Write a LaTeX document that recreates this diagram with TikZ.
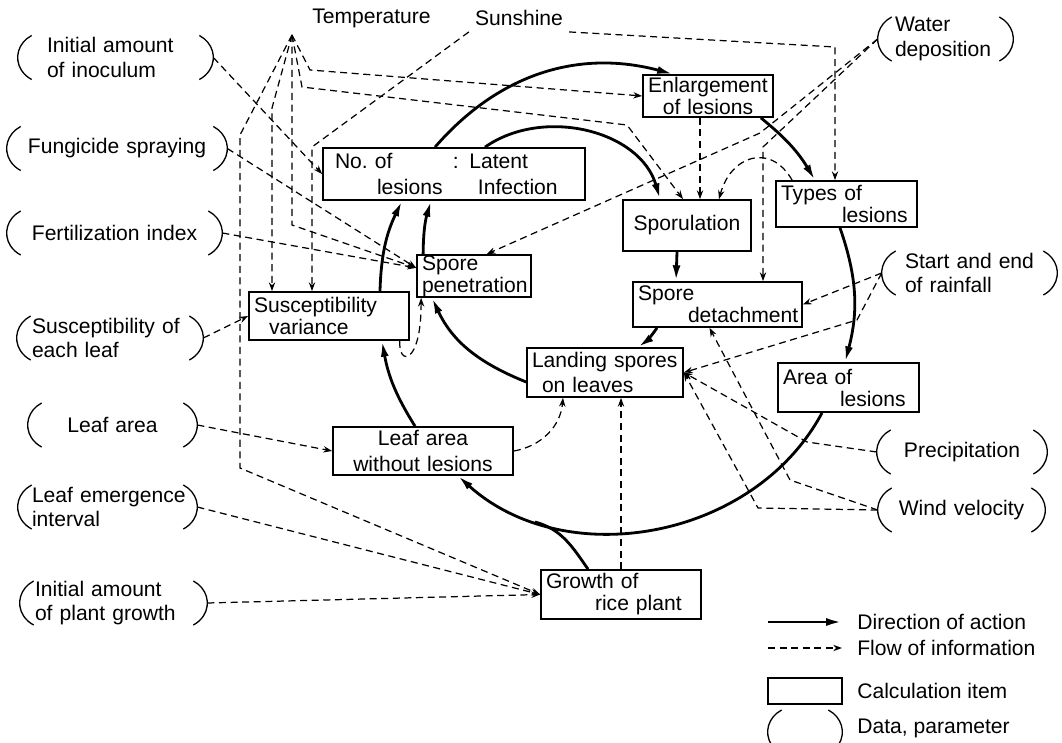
\documentclass[tikz,border=0pt]{standalone}
\usepackage{fontspec}
\setmainfont{Liberation Sans}
\usetikzlibrary{arrows.meta}
\newcommand\brk[1]{%
\draw[paren]([shift={(0.28cm,0.44cm)}]#1.west)arc[start angle=120,end angle=240,x radius=0.56cm,y radius=0.508cm];
\draw[paren]([shift={(-0.28cm,0.44cm)}]#1.east)arc[start angle=60,end angle=-60,x radius=0.56cm,y radius=0.508cm];}
\begin{document}
\begin{tikzpicture}[x=0.02cm,y=0.02cm,font=\fontsize{12}{14}\selectfont,
 box/.style={draw,line width=1pt,align=left,inner xsep=0.1cm,inner ysep=0pt,font=\fontsize{12}{12.5}\selectfont},
 loose/.style={font=\fontsize{12}{14.5}\selectfont},
 datum/.style={inner ysep=0pt,inner xsep=0.3cm,align=left},
 act/.style={line width=1.6pt,-{Latex[length=9pt,width=4.5pt]}},
 info/.style={line width=0.7pt,dash pattern=on 4pt off 2.6pt,-{Stealth[length=5pt,width=3.6pt]}},
 paren/.style={line width=0.75pt}]
\useasboundingbox (0,0) rectangle (1062,-743);
% calculation items
\node[box,text width=2.4cm,minimum height=0.84cm,align=center] (enl) at (708,-96) {Enlargement\\of lesions};
\node[box,loose,text width=5.04cm,minimum height=1.04cm] (nolat) at (454,-174) {\hspace*{0.14cm}\makebox[2.36cm][l]{No.\ of}: Latent\\\hspace*{0.98cm}\makebox[2.02cm][l]{lesions}Infection};
\node[box,text width=2.36cm,minimum height=1.02cm,align=center] (spor) at (687,-225.5) {Sporulation};
\node[box,text width=2.62cm,minimum height=0.92cm] (types) at (846.5,-204) {Types of\\\hspace*{1.22cm}lesions};
\node[box,text width=3.18cm,minimum height=0.9cm] (sdet) at (717.5,-304.5) {Spore\\\hspace*{1.0cm}\mbox{detachment}};
\node[box,text width=2.08cm,minimum height=0.84cm] (pen) at (474,-276) {Spore\\\mbox{penetration}};
\node[box,text width=3.0cm,minimum height=0.96cm] (susc) at (329,-316) {Susceptibility\\\hspace*{0.3cm}variance};
\node[box,loose,text width=2.92cm,minimum height=0.98cm] (land) at (605,-372.5) {\mbox{Landing spores}\\\hspace*{0.2cm}on leaves};
\node[box,text width=2.62cm,minimum height=0.98cm] (area) at (848.5,-387.5) {Area of\\\hspace*{1.14cm}lesions};
\node[box,loose,text width=3.4cm,minimum height=0.96cm,align=center] (lawl) at (423,-451) {Leaf area\\without lesions};
\node[box,text width=3.0cm,minimum height=0.98cm] (grow) at (621,-594.5) {Growth of\\\hspace*{0.98cm}rice plant};
% data, parameters
\node[datum,inner xsep=0.58cm,text width=2.74cm] (inoc) at (115.5,-57.5) {Initial amount\\of inoculum};
\node[datum,text width=3.8cm,align=center] (fung) at (117,-148.5) {Fungicide spraying};
\node[datum,text width=3.7cm,align=center] (fert) at (114.5,-233) {Fertilization index};
\node[datum,text width=3.12cm] (sleaf) at (110,-338) {\mbox{Susceptibility of}\\each leaf};
\node[datum,text width=2.78cm,align=center] (leaf) at (112.5,-425) {Leaf area};
\node[datum,inner xsep=0.28cm,text width=3.02cm] (lemerg) at (107.5,-507) {\mbox{Leaf emergence}\\interval};
\node[datum,text width=3.14cm] (iplant) at (113.5,-603) {Initial amount\\\mbox{of plant growth}};
\node[datum,inner xsep=0.34cm,text width=2.02cm] (water) at (945.5,-39) {Water\\\mbox{deposition}};
\node[datum,inner xsep=0.46cm,text width=2.58cm] (rain) at (969.5,-273) {\mbox{Start and end}\\of rainfall};
\node[datum,text width=2.8cm,align=center] (precip) at (962,-452) {Precipitation};
\node[datum,text width=2.74cm,align=center] (wind) at (961.5,-510) {Wind velocity};
\foreach \d in {inoc,fung,fert,sleaf,leaf,lemerg,iplant,water,rain,precip,wind}{\brk{\d}}
\node (temp) at (371.5,-18) {Temperature};
\node (sun) at (519,-18) {Sunshine};
\coordinate (tpt) at (292,-35);
% direction of action
\draw[act] ([xshift=-0.38cm]nolat.north) to[bend left=32] ([xshift=-0.7cm]enl.north);
\draw[act] ([xshift=-0.26cm]enl.south east) to[bend left=10] ([xshift=-0.63cm]types.north);
\draw[act] ([xshift=-0.13cm]types.south) to[bend left=17] ([xshift=-0.07cm]area.north);
\draw[act] ([xshift=-0.53cm]area.south) to[bend left=52] ([xshift=0.7cm]lawl.south);
\draw[act] ([xshift=-0.16cm]lawl.north) to[bend left=11] ([xshift=1.06cm]susc.south);
\draw[act] ([xshift=1.02cm]susc.north) to[bend left=12] ([xshift=-1.04cm]nolat.south);
\coordinate (gm) at (535,-522);
\draw[line width=1.6pt] ([xshift=-0.66cm]grow.north) to[out=125,in=-15] (gm);
\draw[act] ([xshift=0.62cm]nolat.north) to[out=35,in=106] ([xshift=-0.54cm]spor.north);
\draw[act] ([xshift=-0.2cm]spor.south) -- ([xshift=-0.83cm]sdet.north);
\draw[act] ([xshift=-1.21cm]sdet.south) to[bend left=10] ([xshift=0.66cm]land.north);
\draw[act] ([yshift=-0.19cm]land.west) to[out=158,in=-65] ([xshift=-0.84cm]pen.south);
\draw[act] ([xshift=0.14cm]pen.north west) to[bend left=8] ([xshift=-0.46cm]nolat.south);
% flow of information
\coordinate (ta) at (240,-135);
\coordinate (tb) at (240,-468);
\draw[info] (tpt) -- (ta) -- (tb) -- (grow.west);
\coordinate (tc) at (272,-108);
\draw[info] (tpt) -- (tc) -- (tc |- susc.north);
\coordinate (td) at (292,-225);
\draw[info] (tpt) -- (td) -- (pen.172);
\coordinate (te) at (310,-70);
\draw[info] (tpt) -- (te) -- (enl.west);
\coordinate (tf) at (302,-87);
\coordinate (tg) at (627,-125);
\draw[info] (tpt) -- (tf) -- (tg) -- ([xshift=-0.08cm]spor.north);
\coordinate (sa) at (312,-147);
\draw[info] (sun.south west) -- (sa) -- (sa |- susc.north);
\coordinate (sb) at (835,-47);
\draw[info] (sun.south east) -- (sb) -- (sb |- types.north);
\draw[info] (inoc.east) -- (nolat.west);
\draw[info] (fung.east) -- (pen.172);
\draw[info] (fert.east) -- (pen.172);
\draw[info] (sleaf.east) -- (susc.west);
\draw[info] (leaf.east) -- (lawl.west);
\draw[info] (lemerg.east) -- (grow.west);
\draw[info] (iplant.east) -- (grow.west);
\coordinate (wa) at (760,-133);
\coordinate (wb) at (763,-147);
\draw[info] (water.west) -- (wa) -- (pen.60);
\draw[info] (water.west) -- (wb) -- (wb |- sdet.north);
\draw[info] (rain.west) -- (sdet.east);
\coordinate (ra) at (857,-320);
\draw[info] (rain.west) -- (ra) -- (land.east);
\coordinate (pa) at (807,-442);
\draw[info] (precip.west) -- (pa) -- (land.east);
\coordinate (va) at (790,-480);
\coordinate (vb) at (758,-508);
\draw[info] (wind.west) -- (va) -- ([xshift=-0.16cm]sdet.south);
\draw[info] (wind.west) -- (vb) -- (land.east);
\coordinate (ed) at ([xshift=-0.16cm]enl.south);
\draw[info] (ed) -- (ed |- spor.north);
\draw[info] ([xshift=0.34cm]types.north west) to[out=120,in=75,looseness=1.5] ([xshift=0.64cm]spor.north);
\draw[info] (lawl.east) to[out=10,in=-95] ([xshift=-0.84cm]land.south);
\draw[info] (grow.north) -- (grow.north |- land.south);
\draw[info] ([xshift=-0.2cm]susc.south east) .. controls +(-2,-25) and +(0,-68) .. ([xshift=0.1cm]pen.south west);
% legend
\node[anchor=west,inner xsep=0pt] (lg1) at (857,-622) {Direction of action};
\node[anchor=west,inner xsep=0pt] (lg2) at (857,-648) {Flow of information};
\node[anchor=west,inner xsep=0pt] (lg3) at (857,-691) {Calculation item};
\node[anchor=west,inner xsep=0pt] (lg4) at (857,-728) {Data, parameter};
\draw[act] ([xshift=-1.78cm]lg1.west) -- ([xshift=-0.3cm]lg1.west);
\draw[info] ([xshift=-1.78cm]lg2.west) -- ([xshift=-0.3cm]lg2.west);
\node[box,minimum width=1.48cm,minimum height=0.52cm] (lgbox) at (805,-691) {};
\node[datum,text width=0.88cm] (lgdat) at (805,-732) {};
\brk{lgdat}
\end{tikzpicture}
\end{document}
